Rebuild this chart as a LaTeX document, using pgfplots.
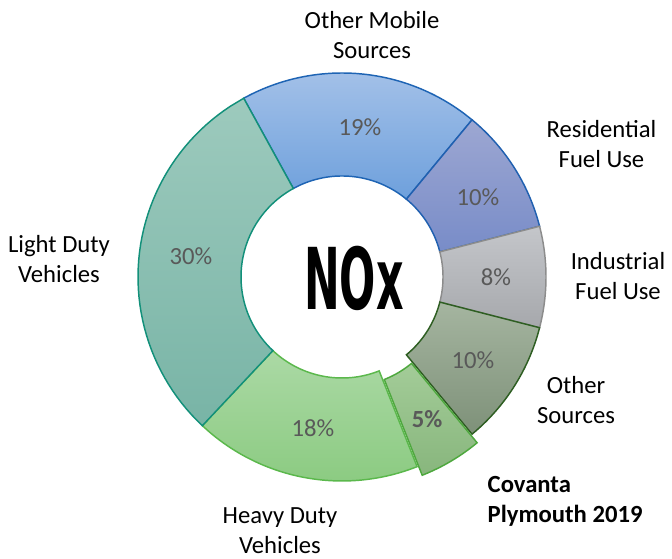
\documentclass[border=0pt]{standalone}
\usepackage{fontspec}
\setmainfont{Carlito}
\newfontfamily\noxfont{DejaVu Sans}
\usepackage{pgfplots}
\pgfplotsset{compat=1.18}

\definecolor{omTop}{RGB}{162,192,232}
\definecolor{omBot}{RGB}{110,160,220}
\definecolor{omLine}{RGB}{30,100,180}
\definecolor{reTop}{RGB}{157,167,210}
\definecolor{reBot}{RGB}{120,140,200}
\definecolor{reLine}{RGB}{32,96,176}
\definecolor{inTop}{RGB}{196,198,202}
\definecolor{inBot}{RGB}{166,168,172}
\definecolor{inLine}{RGB}{140,140,140}
\definecolor{otTop}{RGB}{165,181,160}
\definecolor{otBot}{RGB}{126,145,121}
\definecolor{otLine}{RGB}{46,94,34}
\definecolor{cvTop}{RGB}{163,204,152}
\definecolor{cvBot}{RGB}{136,182,125}
\definecolor{cvLine}{RGB}{78,168,62}
\definecolor{hdTop}{RGB}{171,217,165}
\definecolor{hdBot}{RGB}{140,203,130}
\definecolor{hdLine}{RGB}{91,184,76}
\definecolor{ldTop}{RGB}{157,202,189}
\definecolor{ldBot}{RGB}{120,180,166}
\definecolor{ldLine}{RGB}{18,144,122}
\definecolor{pctGray}{RGB}{89,89,89}

% ring sector: #1 share before it (%), #2 share (%), #3/#4 shift, #5 style
\newcommand{\sector}[5]{%
  \pgfmathsetmacro{\sa}{118.8-3.6*#1}%
  \pgfmathsetmacro{\sb}{\sa-3.6*#2}%
  \edef\temp{\noexpand\addplot[#5, line width=1.1pt, domain=0:2,
      samples at={0,0.02,...,0.98,1,1.0001,1.02,...,1.98,2}]
    ({#3+342+(x<=1?204:101)*cos(x<=1?\sa+x*(\sb-\sa):\sb-(x-1)*(\sb-\sa))},
     {#4-277+(x<=1?204:101)*sin(x<=1?\sa+x*(\sb-\sa):\sb-(x-1)*(\sb-\sa))}) -- cycle;}%
  \temp
}

\tikzset{lab/.style={font=\fontsize{18.5}{22.5}\selectfont, align=center},
         pct/.style={font=\fontsize{18.5}{22.5}\selectfont, text=pctGray}}

\begin{document}
\begin{tikzpicture}
\begin{axis}[
    width=504pt, height=419.25pt, scale only axis,
    xmin=0, xmax=672, ymin=-559, ymax=0,
    hide axis, clip=false,
]
\sector{0}{19}{0}{0}{draw=omLine, top color=omTop, bottom color=omBot}
\sector{19}{10}{0}{0}{draw=reLine, top color=reTop, bottom color=reBot}
\sector{29}{8}{0}{0}{draw=inLine, top color=inTop, bottom color=inBot}
\sector{37}{10}{0}{0}{draw=otLine, top color=otTop, bottom color=otBot}
\sector{52}{18}{0}{0}{draw=hdLine, top color=hdTop, bottom color=hdBot}
\sector{70}{30}{0}{0}{draw=ldLine, top color=ldTop, bottom color=ldBot}
\sector{47}{5}{5.1}{-8.6}{draw=cvLine, top color=cvTop, bottom color=cvBot}

% percentages
\node[pct] at (axis cs:360,-127) {19\%};
\node[pct] at (axis cs:478,-197) {10\%};
\node[pct] at (axis cs:496,-277) {8\%};
\node[pct] at (axis cs:473,-360) {10\%};
\node[pct, font=\fontsize{18.5}{22.5}\selectfont\bfseries] at (axis cs:427,-419) {5\%};
\node[pct] at (axis cs:313,-428) {18\%};
\node[pct] at (axis cs:191,-256) {30\%};

% category labels
\node[lab] at (axis cs:372,-35) {Other Mobile\\Sources};
\node[lab] at (axis cs:601.5,-144) {Residential\\Fuel Use};
\node[lab] at (axis cs:618,-276) {Industrial\\Fuel Use};
\node[lab] at (axis cs:59,-259) {Light Duty\\Vehicles};
\node[lab] at (axis cs:576,-400.5) {Other\\Sources};
\node[lab, align=left, anchor=west, font=\fontsize{18.5}{22.5}\selectfont\bfseries] at (axis cs:483,-501) {Covanta\\Plymouth 2019};
\node[lab] at (axis cs:280,-531) {Heavy Duty\\Vehicles};

\node at (axis cs:354,-278) {\noxfont\bfseries\fontsize{64}{64}\selectfont\scalebox{0.5}[1]{NOx}};
\end{axis}
\path (current axis.south west) rectangle (current axis.north east);
\end{tikzpicture}
\end{document}
